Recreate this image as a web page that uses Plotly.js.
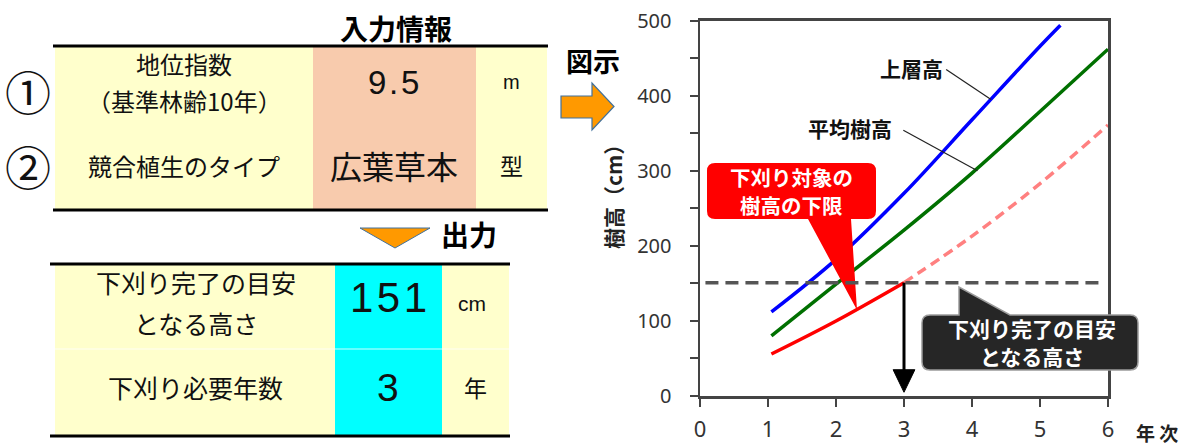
<!DOCTYPE html>
<html>
<head>
<meta charset="utf-8">
<script src="https://cdn.plot.ly/plotly-3.0.1.min.js"></script>
<style>html,body{margin:0;padding:0;background:#fff;}#chart{width:1185px;height:446px;}</style>
</head>
<body>
<div id="chart"></div>
<script>
// ---- data ----
const upperYears = [1.05, 2, 3, 4, 5, 5.3];
const upperHeight = [112, 182, 270, 368, 466, 494];
const meanYears = [1.05, 2, 3, 4, 5, 6];
const meanHeight = [80, 149, 221, 297, 379, 462];
const lowerYearsSolid = [1.05, 2, 3];
const lowerHeightSolid = [56, 100, 151];
const lowerYearsDashed = [3, 4, 5, 6];
const lowerHeightDashed = [151, 213, 283, 361];
const targetHeight = 151;      // 下刈り完了の目安となる高さ (cm)
const requiredYears = 3;       // 下刈り必要年数
const xTicks = [0, 1, 2, 3, 4, 5, 6];
const yTicks = [0, 100, 200, 300, 400, 500];

const inputTitle = '入力情報';
const inputNumbers = ['①', '②'];
const inputLabelLines = [['地位指数', '（基準林齢10年）'], ['競合植生のタイプ']];
const inputValues = ['9.5', '広葉草本'];
const inputUnits = ['m', '型'];
const outputTitle = '出力';
const outputLabelLines = [['下刈り完了の目安', 'となる高さ'], ['下刈り必要年数']];
const outputValues = [targetHeight, requiredYears];
const outputUnits = ['cm', '年'];

// ---- layout helpers ----
const W = 1185, H = 446;
const JP = '"Noto Sans CJK JP", "Noto Sans", sans-serif';
const NUM = '"Liberation Sans", Arial, sans-serif';
const spaced = s => String(s).split('').join('\u200A');

const shapes = [];
const ann = [];
function rect(x0, y0, x1, y1, fill) {
  shapes.push({type: 'rect', xref: 'x2', yref: 'y2', x0, y0, x1, y1, fillcolor: fill, line: {width: 0}, layer: 'above'});
}
function hline(x0, x1, y, w, c) {
  shapes.push({type: 'line', xref: 'x2', yref: 'y2', x0, x1, y0: y, y1: y, line: {color: c || '#000', width: w}});
}
function txt(x, y, text, size, family, color, extra) {
  ann.push(Object.assign({xref: 'x2', yref: 'y2', x, y, text, showarrow: false, xanchor: 'center', yanchor: 'middle',
    font: {family: family || JP, size, color: color || '#111'}}, extra || {}));
}

// ---- input table ----
const yellow = '#ffffcc', salmon = '#f8cbad', cyan = '#00ffff';
rect(55, 47, 313, 209, yellow);
rect(313, 47, 476, 209, salmon);
rect(476, 47, 547, 209, yellow);
hline(53, 548, 46, 3);
hline(53, 548, 210, 3);
txt(396, 28, '<b>' + inputTitle + '</b>', 28, JP, '#000');
txt(28, 90, inputNumbers[0], 46);
txt(28, 165, inputNumbers[1], 46);
txt(184, 63, inputLabelLines[0][0], 24);
txt(184, 100, inputLabelLines[0][1], 24);
txt(393, 82, spaced(inputValues[0]), 33, NUM);
txt(511, 82, inputUnits[0], 20, NUM);
txt(184, 165, inputLabelLines[1][0], 24);
txt(394, 165, inputValues[1], 32);
txt(511, 165, inputUnits[1], 23);

// ---- output arrow & table ----
shapes.push({type: 'path', xref: 'x2', yref: 'y2', path: 'M 360,228 L 430,228 L 395,248 Z',
  fillcolor: '#ff9900', line: {color: '#41719c', width: 1}});
txt(469, 234, '<b>' + outputTitle + '</b>', 28, JP, '#000');
rect(55, 265, 335, 435, yellow);
rect(335, 265, 442, 435, cyan);
rect(442, 265, 509, 435, yellow);
hline(55, 509, 349, 1, 'rgba(255,255,255,0.8)');
hline(50, 510, 264, 3);
hline(50, 510, 436, 3);
txt(196, 282, outputLabelLines[0][0], 25);
txt(196, 323, outputLabelLines[0][1], 25);
txt(388, 297, spaced(outputValues[0]), 42, NUM);
txt(472, 303, outputUnits[0], 21, NUM);
txt(195, 387, outputLabelLines[1][0], 25);
txt(388, 387, spaced(outputValues[1]), 39, NUM);
txt(475, 387, outputUnits[1], 23);

// ---- 図示 arrow ----
shapes.push({type: 'path', xref: 'x2', yref: 'y2',
  path: 'M 561,96 L 592,96 L 592,83 L 614,106.5 L 592,130 L 592,118 L 561,118 Z',
  fillcolor: '#ff9900', line: {color: '#41719c', width: 1.2}});
txt(593, 60, '<b>図示</b>', 27, JP, '#000');

// ---- chart decorations ----
txt(613, 192, '<b>樹高（cm）</b>', 21, JP, '#222', {textangle: -90});
txt(1157, 432, '<b>年 次</b>', 19, JP, '#222');

// red callout
(function () {
  const x0 = 707, x1 = 876, y0 = 163, y1 = 219, R = 8;
  const p = `M ${x0 + R},${y0} L ${x1 - R},${y0} Q ${x1},${y0} ${x1},${y0 + R} L ${x1},${y1 - R} Q ${x1},${y1} ${x1 - R},${y1} ` +
    `L 851,${y1} L 857,310 L 808,${y1} L ${x0 + R},${y1} Q ${x0},${y1} ${x0},${y1 - R} L ${x0},${y0 + R} Q ${x0},${y0} ${x0 + R},${y0} Z`;
  shapes.push({type: 'path', xref: 'x2', yref: 'y2', path: p, fillcolor: '#ff0000', line: {width: 0}});
})();
txt(791, 177, '<b>下刈り対象の</b>', 20.5, JP, '#fff');
txt(791, 205, '<b>樹高の下限</b>', 20.5, JP, '#fff');

// horizontal guide (target height)
shapes.push({type: 'line', xref: 'x', yref: 'y', x0: 0.08, x1: 5.95, y0: targetHeight, y1: targetHeight,
  line: {color: '#555', width: 3.5, dash: '13px,7px'}});

// dark callout
(function () {
  const x0 = 922, x1 = 1138, y0 = 315, y1 = 370, R = 8;
  const p = `M ${x0 + R},${y0} L 959,${y0} L 959,287 L 1010,${y0} L ${x1 - R},${y0} Q ${x1},${y0} ${x1},${y0 + R} ` +
    `L ${x1},${y1 - R} Q ${x1},${y1} ${x1 - R},${y1} L ${x0 + R},${y1} Q ${x0},${y1} ${x0},${y1 - R} L ${x0},${y0 + R} Q ${x0},${y0} ${x0 + R},${y0} Z`;
  shapes.push({type: 'path', xref: 'x2', yref: 'y2', path: p, fillcolor: '#262626', line: {color: '#9a9a9a', width: 1.5}});
})();
txt(1032, 328, '<b>下刈り完了の目安</b>', 21, JP, '#fff');
txt(1032, 356, '<b>となる高さ</b>', 21, JP, '#fff');

// downward arrow at required year
shapes.push({type: 'line', xref: 'x', yref: 'y', x0: requiredYears, x1: requiredYears, y0: targetHeight, y1: 33,
  line: {color: '#000', width: 3}});
shapes.push({type: 'path', xref: 'x', yref: 'y',
  path: `M ${requiredYears - 0.16},35 L ${requiredYears + 0.16},35 L ${requiredYears},5 Z`,
  fillcolor: '#000', line: {color: '#000', width: 1}});

// series labels with leader lines
shapes.push({type: 'line', xref: 'x', yref: 'y', x0: 3.62, y0: 435, x1: 4.28, y1: 395, line: {color: '#222', width: 1.2}});
shapes.push({type: 'line', xref: 'x', yref: 'y', x0: 2.99, y0: 354, x1: 4.08, y1: 300, line: {color: '#222', width: 1.2}});
ann.push({xref: 'x', yref: 'y', x: 3.6, y: 437, xanchor: 'right', yanchor: 'middle', showarrow: false,
  text: '<b>上層高</b>', font: {family: JP, size: 21, color: '#111'}});
ann.push({xref: 'x', yref: 'y', x: 2.86, y: 357, xanchor: 'right', yanchor: 'middle', showarrow: false,
  text: '<b>平均樹高</b>', font: {family: JP, size: 21, color: '#111'}});

// ---- traces ----
const traces = [
  {x: lowerYearsDashed, y: lowerHeightDashed, mode: 'lines', line: {color: '#ff8080', width: 3.5, dash: '10px,6px', shape: 'spline'}, name: '下限(破線)'},
  {x: lowerYearsSolid, y: lowerHeightSolid, mode: 'lines', line: {color: '#ff0000', width: 3.5, shape: 'spline'}, name: '下刈り対象の樹高の下限'},
  {x: meanYears, y: meanHeight, mode: 'lines', line: {color: '#007000', width: 3.5, shape: 'spline'}, name: '平均樹高'},
  {x: upperYears, y: upperHeight, mode: 'lines', line: {color: '#0000ff', width: 3.5, shape: 'spline'}, name: '上層高'},
  {x: [], y: [], xaxis: 'x2', yaxis: 'y2', mode: 'markers', hoverinfo: 'skip', showlegend: false}
];

const layout = {
  width: W, height: H,
  margin: {l: 0, r: 0, t: 0, b: 0},
  paper_bgcolor: '#fff', plot_bgcolor: 'rgba(0,0,0,0)',
  showlegend: false,
  xaxis: {domain: [700 / W, 1108 / W], range: [0, 6], tickvals: xTicks, ticks: 'outside', ticklen: 8, tickwidth: 2,
    tickcolor: '#444', showline: true, linecolor: '#444', linewidth: 2.5, mirror: true, showgrid: false, zeroline: false,
    tickfont: {family: '"Noto Sans", sans-serif', size: 22, color: '#333'}, ticklabelstandoff: 4, anchor: 'y', fixedrange: true},
  yaxis: {domain: [(H - 396) / H, (H - 20.7) / H], range: [0, 500], tickvals: yTicks, ticks: 'outside', ticklen: 8, tickwidth: 2,
    tickcolor: '#444', showline: true, linecolor: '#444', linewidth: 2.5, mirror: true, showgrid: false, zeroline: false,
    minor: {dtick: 50, ticks: 'outside', ticklen: 8, tickwidth: 2, tickcolor: '#444'},
    tickfont: {family: '"Noto Sans", sans-serif', size: 20, color: '#333'}, ticklabelstandoff: 14, anchor: 'x', fixedrange: true},
  xaxis2: {domain: [0, 1], range: [0, W], visible: false, anchor: 'y2', fixedrange: true},
  yaxis2: {domain: [0, 1], range: [H, 0], visible: false, anchor: 'x2', fixedrange: true},
  shapes: shapes,
  annotations: ann
};

Plotly.newPlot('chart', traces, layout, {displayModeBar: false, staticPlot: true});
</script>
</body>
</html>
